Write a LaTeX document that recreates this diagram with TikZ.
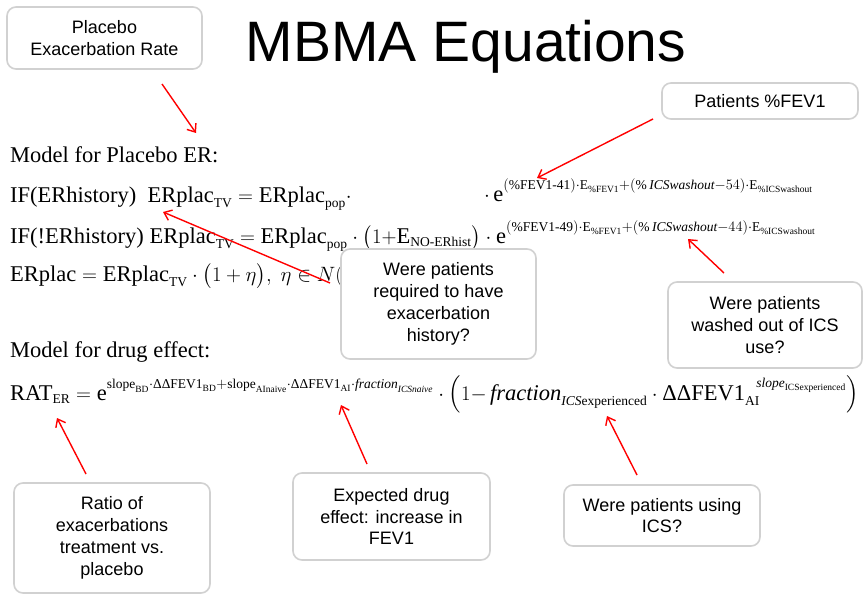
\documentclass[tikz,border=0pt]{standalone}
\usepackage{amsmath}
\usepackage{fontspec}
\setmainfont{Liberation Serif}
\newfontfamily\labelfont{Liberation Sans}
\usetikzlibrary{arrows.meta}
\DeclareMathSizes{22.5}{22.5}{13.5}{9.5}
% exponent lifted a little above the usual superscript position
\newcommand\liftexp[2][3.5pt]{\raisebox{#1}{$\scriptstyle #2$}}

\tikzset{
  note/.style={draw=black!18, line width=1.6pt, rounded corners=9pt, fill=white,
    align=center, inner sep=0pt, font=\labelfont\fontsize{18}{21.8}\selectfont},
  eq/.style={anchor=base west, inner sep=0pt, font=\fontsize{22.5}{27}\selectfont},
  pointer/.style={draw=red, line width=1.4pt, -{Straight Barb[length=7pt,width=11pt]}},
}

\begin{document}
\begin{tikzpicture}[x=1pt, y=-1pt]
\useasboundingbox[fill=white] (0,0) rectangle (863,594);

% title
\node[font=\labelfont\fontsize{57}{60}\selectfont, inner sep=0pt] (title) at (466,47) {MBMA Equations};

% placebo model
\node[eq] (m1) at (10,162) {Model for Placebo ER:};
\node[eq] (m2) at (10,202) {IF(ERhistory)\ \ $\text{ERplac}_{\text{TV}} = \text{ERplac}_{\text{pop}}\cdot$};
\node[eq] (m2e) at (484,201) {$\cdot\,\text{e}^{\liftexp{(\text{\%FEV1-41})\cdot\text{E}_{\text{\%FEV1}}+(\text{\%}\,\text{\itshape ICSwashout}-54)\cdot\text{E}_{\text{\%ICSwashout}}}}$};
\node[eq] (m3) at (10,243) {IF(!ERhistory) $\text{ERplac}_{\text{TV}} = \text{ERplac}_{\text{pop}}\cdot\bigl(1{+}\text{E}_{\text{NO-ERhist}}\bigr)\cdot\text{e}^{\liftexp{(\text{\%FEV1-49})\cdot\text{E}_{\text{\%FEV1}}+(\text{\%}\,\text{\itshape ICSwashout}-44)\cdot\text{E}_{\text{\%ICSwashout}}}}$};
\node[eq] (m4) at (10,281) {$\text{ERplac} = \text{ERplac}_{\text{TV}}\cdot\bigl(1+\eta\bigr),\ \eta\in N($};

% drug effect model
\node[eq] (d1) at (10,357) {Model for drug effect:};
\node[eq] (d2) at (10,400) {$\text{RAT}_{\text{ER}} = \text{e}^{\liftexp{\text{slope}_{\text{BD}}\cdot\text{ΔΔFEV1}_{\text{BD}}+\text{slope}_{\text{AInaive}}\cdot\text{ΔΔFEV1}_{\text{AI}}\cdot\text{\itshape fraction}_{\text{\itshape ICSnaive}}}}\cdot\Bigl(1{-}\,\text{\itshape fraction}_{\text{\itshape ICS}\text{experienced}}\cdot\text{ΔΔFEV1}_{\text{AI}}^{\ \ \liftexp[2pt]{\text{\itshape slope}_{\text{ICSexperienced}}}}\Bigr)$};

% callouts
\node[note, minimum width=195pt, minimum height=62pt] (bplac) at (104.5,38) {Placebo\\Exacerbation Rate};
\node[note, minimum width=196pt, minimum height=36pt] (bfev) at (760,101) {Patients \%FEV1};
\node[note, minimum width=195pt, minimum height=110pt] (bhist) at (438.5,304) {Were patients\\required to have\\exacerbation\\history?};
\node[note, minimum width=194pt, minimum height=86pt] (bwash) at (765,325) {Were patients\\washed out of ICS\\use?};
\node[note, minimum width=196pt, minimum height=110pt] (bratio) at (112,538) {Ratio of\\exacerbations\\treatment vs.\\placebo};
\node[note, minimum width=197pt, minimum height=87pt] (bdrug) at (391.5,516.5) {Expected drug\\effect: increase in\\FEV1};
\node[note, minimum width=196pt, minimum height=61pt] (bics) at (662,515.5) {Were patients using\\ICS?};

% pointer ends
\coordinate (s1) at (162,84);  \coordinate (t1) at (196,133);
\coordinate (s2) at (653,119); \coordinate (t2) at (537,178);
\coordinate (s3) at (330,283); \coordinate (t3) at (163,212);
\coordinate (s4) at (724,273); \coordinate (t4) at (688,239);
\coordinate (s5) at (86,474);  \coordinate (t5) at (57,418);
\coordinate (s6) at (367,464); \coordinate (t6) at (341,405);
\coordinate (s7) at (637,475); \coordinate (t7) at (607,416);

\foreach \i in {1,...,7} \draw[pointer] (s\i) -- (t\i);
\end{tikzpicture}
\end{document}
